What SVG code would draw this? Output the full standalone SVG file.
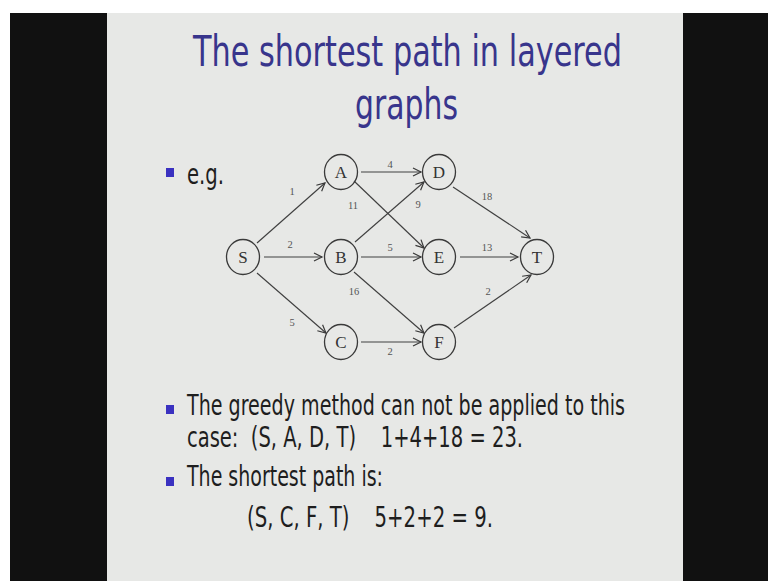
<svg xmlns="http://www.w3.org/2000/svg" width="768" height="581" viewBox="0 0 768 581">
<defs>
<marker id="arr" markerUnits="userSpaceOnUse" markerWidth="12" markerHeight="12" refX="9" refY="5" orient="auto">
<path d="M1,1 L9,5 L1,9" fill="none" stroke="#3a3a3a" stroke-width="1.2"/>
</marker>
<style>
.edge{stroke:#404040;stroke-width:1.15;fill:none;marker-end:url(#arr)}
.node ellipse{fill:none;stroke:#3a3a3a;stroke-width:1.3}
.nl{font-family:"Liberation Serif",serif;font-size:17px;fill:#333;text-anchor:middle}
.el{font-family:"Liberation Serif",serif;font-size:10.5px;fill:#555;text-anchor:middle}
.title{font-family:"DejaVu Sans",sans-serif;font-size:43px;fill:#38358c}
.body{font-family:"DejaVu Sans",sans-serif;font-size:28px;fill:#1e1e1e}
.bul{fill:#3a31c0}
</style>
</defs>
<rect x="0" y="0" width="768" height="581" fill="#ffffff"/>
<rect x="10" y="13" width="97" height="568" fill="#111111"/>
<rect x="683" y="13" width="85" height="568" fill="#111111"/>
<rect x="107" y="13" width="576" height="568" fill="#e7e8e6"/>

<text class="title" x="193" y="66" textLength="429" lengthAdjust="spacingAndGlyphs">The shortest path in layered</text>
<text class="title" x="355" y="119" textLength="103" lengthAdjust="spacingAndGlyphs">graphs</text>

<rect class="bul" x="166" y="168" width="8" height="9"/>
<text class="body" x="187" y="184" textLength="37" lengthAdjust="spacingAndGlyphs">e.g.</text>

<g id="connectors">
<line class="edge" x1="257" y1="243" x2="325" y2="183"/>
<line class="edge" x1="264" y1="257" x2="322" y2="257"/>
<line class="edge" x1="257" y1="273" x2="326" y2="333"/>
<line class="edge" x1="361" y1="172" x2="421" y2="172"/>
<line class="edge" x1="354" y1="181" x2="424" y2="248"/>
<line class="edge" x1="355" y1="242" x2="424" y2="182"/>
<line class="edge" x1="361" y1="257" x2="421" y2="257"/>
<line class="edge" x1="354" y1="272" x2="424" y2="333"/>
<line class="edge" x1="361" y1="342" x2="421" y2="342"/>
<line class="edge" x1="453" y1="187" x2="530" y2="238"/>
<line class="edge" x1="460" y1="257" x2="518" y2="257"/>
<line class="edge" x1="454" y1="328" x2="531" y2="275"/>
<text class="el" x="390" y="168">4</text>
<text class="el" x="292" y="195">1</text>
<text class="el" x="290" y="248">2</text>
<text class="el" x="292" y="326">5</text>
<text class="el" x="353" y="209">11</text>
<text class="el" x="418" y="208">9</text>
<text class="el" x="390" y="251">5</text>
<text class="el" x="354" y="295">16</text>
<text class="el" x="390" y="355">2</text>
<text class="el" x="487" y="200">18</text>
<text class="el" x="487" y="251">13</text>
<text class="el" x="488" y="295">2</text>
</g>

<g id="node-S" class="node"><ellipse cx="243" cy="257" rx="16.5" ry="17.5"/><text class="nl" x="243" y="263">S</text></g>
<g id="node-A" class="node"><ellipse cx="341" cy="172" rx="16.5" ry="17.5"/><text class="nl" x="341" y="178">A</text></g>
<g id="node-B" class="node"><ellipse cx="341" cy="257" rx="16.5" ry="17.5"/><text class="nl" x="341" y="263">B</text></g>
<g id="node-C" class="node"><ellipse cx="341" cy="342" rx="16.5" ry="17.5"/><text class="nl" x="341" y="348">C</text></g>
<g id="node-D" class="node"><ellipse cx="439" cy="172" rx="16.5" ry="17.5"/><text class="nl" x="439" y="178">D</text></g>
<g id="node-E" class="node"><ellipse cx="439" cy="257" rx="16.5" ry="17.5"/><text class="nl" x="439" y="263">E</text></g>
<g id="node-F" class="node"><ellipse cx="439" cy="342" rx="16.5" ry="17.5"/><text class="nl" x="439" y="348">F</text></g>
<g id="node-T" class="node"><ellipse cx="537" cy="257" rx="16.5" ry="17.5"/><text class="nl" x="537" y="263">T</text></g>

<rect class="bul" x="166" y="405" width="8" height="9"/>
<text class="body" x="187" y="415" textLength="438" lengthAdjust="spacingAndGlyphs">The greedy method can not be applied to this</text>
<text class="body" x="187" y="447" textLength="336" lengthAdjust="spacingAndGlyphs" xml:space="preserve">case:  (S, A, D, T)    1+4+18 = 23.</text>
<rect class="bul" x="166" y="477" width="8" height="9"/>
<text class="body" x="187" y="486" textLength="196" lengthAdjust="spacingAndGlyphs">The shortest path is:</text>
<text class="body" x="247" y="527" textLength="246" lengthAdjust="spacingAndGlyphs" xml:space="preserve">(S, C, F, T)    5+2+2 = 9.</text>
</svg>
